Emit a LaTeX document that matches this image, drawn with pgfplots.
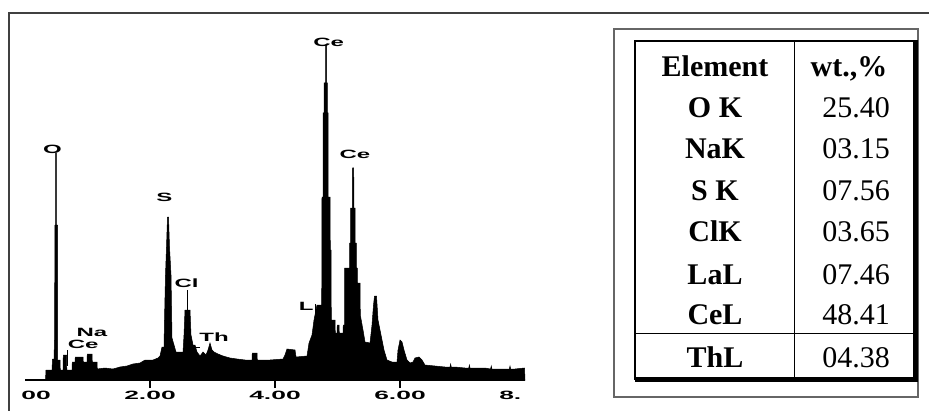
\documentclass[border=0pt]{standalone}
\usepackage{pgfplots}
\pgfplotsset{compat=1.18}
\usepackage{graphicx}
\usepackage{fontspec}
\setmainfont{Liberation Serif}
\newfontfamily\lsans{Liberation Sans}
\newcommand{\pk}[1]{\scalebox{2}[1]{\lsans\bfseries\fontsize{12}{12}\selectfont #1}}
\newcommand{\tk}[1]{\scalebox{2.2}[1]{\lsans\bfseries\fontsize{12}{12}\selectfont #1}}
\begin{document}
\begin{tikzpicture}[x=1pt,y=1pt]
\useasboundingbox (0,0) rectangle (929,410);
\fill[white] (0,0) rectangle (929,410);
\draw[black!75, line width=1.5pt] (9,-5) -- (9,397) -- (935,397);
\begin{axis}[at={(25pt,30pt)}, anchor=south west, scale only axis,
  width=500pt, height=350pt, xmin=0, xmax=8, ymin=0, ymax=350,
  axis x line=bottom, axis y line=none,
  axis line style={-, line width=1.5pt},
  xtick={2,4,6}, xticklabels={\tk{2.00},\tk{4.00},\tk{6.00}},
  extra x ticks={0,8}, extra x tick labels={\tk{\phantom{0.}00},\tk{8.\phantom{00}}},
  extra x tick style={tick style={draw=none}},
  tick align=outside, major tick length=8pt,
  tick style={line width=1.2pt, black},
  clip=false]
\addplot[fill=black, draw=black, line width=0.5pt] coordinates {
(0.328,0)(0.336,10)(0.432,10)(0.44,21)(0.464,21)(0.472,40)(0.48,155)(0.4896,155)(0.4912,227)(0.5008,227)(0.5024,155)(0.52,155)(0.5232,20)(0.56,20)(0.5648,10)(0.608,10)(0.6128,25)(0.664,25)(0.6688,10)(0.752,10)(0.7568,18)(0.8,18)(0.8048,23)(0.928,23)(0.9328,18)(0.992,18)(0.9968,26)(1.072,26)(1.0768,18)(1.152,18)(1.1568,11)(1.28,12)(1.408,11)(1.52,13)(1.632,14)(1.728,16)(1.84,17)(1.92,20)(2.048,20)(2.128,22)(2.16,24)(2.192,33)(2.224,33)(2.232,60)(2.248,105)(2.264,133)(2.28,163)(2.296,163)(2.312,133)(2.336,105)(2.352,42)(2.384,35)(2.416,28)(2.528,28)(2.544,45)(2.56,70)(2.64,70)(2.656,45)(2.688,35)(2.72,35)(2.752,28)(2.8,24)(2.848,28)(2.896,25)(2.928,30)(2.96,37)(2.992,30)(3.024,28)(3.088,26)(3.168,24)(3.28,22)(3.392,21)(3.52,20)(3.632,20)(3.6368,27)(3.712,27)(3.7168,20)(3.92,20)(4.128,21)(4.16,25)(4.192,31)(4.32,30)(4.336,23)(4.512,24)(4.544,37)(4.592,45)(4.624,60)(4.672,75)(4.7472,75)(4.752,183)(4.768,183)(4.7712,267)(4.784,267)(4.7872,297)(4.808,297)(4.8112,335)(4.824,335)(4.8272,297)(4.8368,297)(4.84,267)(4.848,267)(4.8512,183)(4.88,183)(4.8848,130)(4.896,130)(4.9008,60)(4.96,60)(4.9648,47)(4.992,47)(4.9968,55)(5.024,55)(5.0288,47)(5.088,47)(5.0928,55)(5.112,55)(5.1152,112)(5.192,112)(5.1952,137)(5.208,137)(5.2112,172)(5.2368,172)(5.24,212)(5.2592,212)(5.2624,172)(5.28,172)(5.2832,137)(5.3008,137)(5.304,112)(5.3168,112)(5.32,97)(5.36,97)(5.3648,65)(5.408,50)(5.44,38)(5.52,37)(5.552,55)(5.576,75)(5.592,84)(5.624,84)(5.648,60)(5.696,45)(5.744,30)(5.792,20)(5.872,18)(5.952,18)(5.968,30)(6.0,40)(6.032,38)(6.064,30)(6.112,20)(6.16,17)(6.208,18)(6.24,22)(6.304,23)(6.352,20)(6.4,15)(6.56,14)(6.72,13)(6.8,13)(6.81,16)(6.82,13)(6.88,13)(7.04,12)(7.1,12)(7.11,15)(7.12,12)(7.2,12)(7.36,12)(7.45,11)(7.46,14)(7.47,11)(7.52,11)(7.68,11)(7.75,11)(7.76,14)(7.77,11)(7.84,11)(7.992,12)(8.0,0)
} \closedcycle;
% peak labels
\node at (axis cs:0.44,231) {\pk{O}};
\node at (axis cs:2.232,183) {\pk{S}};
\node at (axis cs:2.584,97) {\pk{Cl}};
\draw[line width=0.8pt] (axis cs:2.592,90) -- (axis cs:2.592,70);
\node at (axis cs:3.024,43) {\pk{Th}};
\draw[line width=1pt] (axis cs:2.69,33) -- (axis cs:2.8,33);
\node at (axis cs:1.072,48) {\pk{Na}};
\node at (axis cs:0.93,36) {\pk{Ce}};
\draw[line width=1pt] (axis cs:0.68,30) -- (axis cs:0.68,14);
\node at (axis cs:4.86,338) {\pk{Ce}};
\node at (axis cs:5.28,226) {\pk{Ce}};
\node at (axis cs:4.5,74) {\pk{L}};
\draw[line width=1pt] (axis cs:4.64,76) -- (axis cs:4.64,58);
\end{axis}
% table
\draw[black!60, line width=1.2pt] (614,13) rectangle (918,381);
\draw[line width=1.2pt] (915,369) -- (635,369) -- (635,30);
\draw[line width=4.5pt] (635,30.5) -- (915.5,30.5) -- (915.5,369.6);
\draw[line width=1pt] (794,369) -- (794,30);
\draw[line width=1pt] (635,77) -- (915,77);
\begin{scope}[every node/.style={anchor=base, inner sep=0pt, font=\fontsize{30}{30}\selectfont}]
\node[font=\bfseries\fontsize{30}{30}\selectfont] at (715,333) {Element};
\node[font=\bfseries\fontsize{30}{30}\selectfont] at (849,333) {wt.,\%};
\node[font=\bfseries\fontsize{30}{30}\selectfont] at (715,292) {O K};
\node[font=\bfseries\fontsize{30}{30}\selectfont] at (715,251) {NaK};
\node[font=\bfseries\fontsize{30}{30}\selectfont] at (715,209) {S K};
\node[font=\bfseries\fontsize{30}{30}\selectfont] at (715,168) {ClK};
\node[font=\bfseries\fontsize{30}{30}\selectfont] at (715,125) {LaL};
\node[font=\bfseries\fontsize{30}{30}\selectfont] at (715,85) {CeL};
\node[font=\bfseries\fontsize{30}{30}\selectfont] at (715,43) {ThL};
\node at (856,292) {25.40};
\node at (856,251) {03.15};
\node at (856,209) {07.56};
\node at (856,168) {03.65};
\node at (856,125) {07.46};
\node at (856,85) {48.41};
\node at (856,43) {04.38};
\end{scope}
\end{tikzpicture}
\end{document}
